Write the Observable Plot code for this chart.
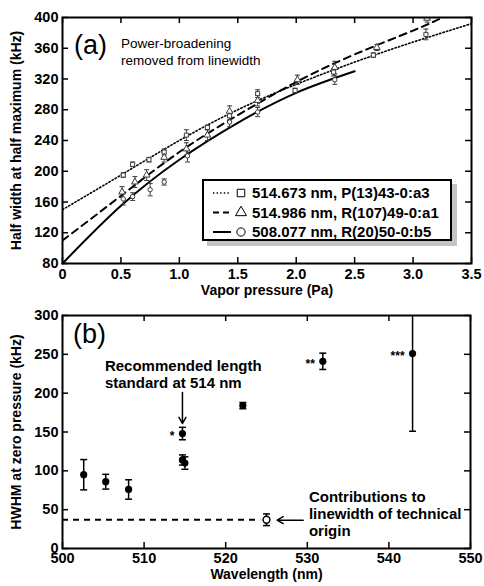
<!DOCTYPE html>
<html><head><meta charset="utf-8">
<script src="https://cdn.jsdelivr.net/npm/d3@7"></script>
<script src="https://cdn.jsdelivr.net/npm/@observablehq/plot@0.6"></script>
<style>
body{margin:0;background:#fff;}
#wrap{position:relative;width:484px;height:586px;background:#fff;font-family:"Liberation Sans",Arial,Helvetica,sans-serif;}
#wrap svg{display:block;}
#legend{position:absolute;left:202px;top:179px;width:246px;height:58px;border:2px solid #000;background:#fff;box-shadow:5px 5px 0 #c4c4c4;}
</style>
</head><body>
<div id="wrap"><div id="legend"></div></div>
<script>
// ---------- tick values ----------
const pressureTicks = [0, 0.5, 1, 1.5, 2, 2.5, 3, 3.5];
const hwhmTicks = [80, 120, 160, 200, 240, 280, 320, 360, 400];
const wavelengthTicks = [500, 510, 520, 530, 540, 550];
const zeroTicks = [0, 50, 100, 150, 200, 250, 300];

// ---------- panel (a): measured points ----------
const sqP   = [0.52, 0.60, 0.74, 0.87, 1.06, 1.24, 1.43, 1.67, 1.99, 2.32, 2.66, 3.11];
const sqW   = [195, 209, 215, 225, 247, 257, 272, 301, 305, 329, 351, 378];
const sqErr = [3, 3, 3, 4, 7, 3, 5, 5, 3, 5, 3, 7];

const triP   = [0.51, 0.62, 0.72, 0.87, 1.06, 1.24, 1.43, 1.67, 2.01, 2.33, 2.69, 3.12];
const triW   = [173, 186, 195, 218, 229, 247, 278, 292, 319, 335, 361, 399];
const triErr = [7, 7, 7, 6, 8, 7, 7, 7, 6, 8, 4, 5];

const cirP   = [0.52, 0.60, 0.75, 0.87, 1.07, 1.43, 1.67, 2.33];
const cirW   = [164, 167, 176, 186, 220, 264, 277, 319];
const cirErr = [8, 5, 8, 4, 8, 6, 6, 6];

// ---------- panel (a): fitted curves ----------
const fitSqP  = [0, 0.5, 1, 1.5, 2, 2.5, 3, 3.5];
const fitSqW  = [150, 195, 240, 280, 313, 342, 368, 392];
const fitTriP = [0, 0.5, 1, 1.5, 2, 2.5, 3, 3.25];
const fitTriW = [110, 168, 225, 273, 316, 352, 383, 400];
const fitCirP = [0, 0.5, 1, 1.5, 2, 2.5];
const fitCirW = [80, 155, 215, 263, 302, 330];

const legendLabels = ["514.673 nm, P(13)43-0:a3", "514.986 nm, R(107)49-0:a1", "508.077 nm, R(20)50-0:b5"];

// ---------- panel (b) ----------
const bWl    = [502.6, 505.3, 508.1, 514.7, 514.7, 515.0, 522.1, 531.9, 542.9];
const bHw    = [95, 86, 76, 148, 114, 110, 184, 241, 251];
const bErr   = [19.5, 9.5, 12.5, 8, 6.5, 8, 4, 10.5, 100];
const bStars = ["", "", "", "*", "", "", "", "**", "***"];
const techWl = [525.0], techHw = [37], techErr = [7.5];

// ---------- helpers ----------
const FONT = '"Liberation Sans", Arial, Helvetica, sans-serif';
const cap = w => ({draw(ctx) { ctx.moveTo(-w, 0); ctx.lineTo(w, 0); }});
const zip = (xs, ys, es) => xs.map((x, i) => ({x, y: ys[i], e: es ? es[i] : 0}));

const sq = zip(sqP, sqW, sqErr), tri = zip(triP, triW, triErr), cir = zip(cirP, cirW, cirErr);
const fSq = zip(fitSqP, fitSqW), fTri = zip(fitTriP, fitTriW), fCir = zip(fitCirP, fitCirW);

function errMarks(data, w, color, sw) {
  return [
    Plot.ruleX(data, {x: "x", y1: d => d.y - d.e, y2: d => d.y + d.e, stroke: color, strokeWidth: sw, clip: true}),
    Plot.dot(data, {x: "x", y: d => d.y + d.e, symbol: cap(w), fill: "none", stroke: color, strokeWidth: sw, clip: true}),
    Plot.dot(data, {x: "x", y: d => d.y - d.e, symbol: cap(w), fill: "none", stroke: color, strokeWidth: sw, clip: true})
  ];
}
function frameTicks(xt, yt, iw, ih) {
  return [
    Plot.tickX(xt, {x: d => d, insetTop: ih - 6, strokeWidth: 1.5}),
    Plot.tickX(xt, {x: d => d, insetBottom: ih - 6, strokeWidth: 1.5}),
    Plot.tickY(yt, {y: d => d, insetRight: iw - 6, strokeWidth: 1.5}),
    Plot.tickY(yt, {y: d => d, insetLeft: iw - 6, strokeWidth: 1.5})
  ];
}
const TICKFS = 14.5, TITLEFS = 14;

// ---------- panel (a) ----------
const W = 484;
const mA = {t: 17, r: 13, b: 37, l: 62}, HA = 300;
const iwA = W - mA.l - mA.r, ihA = HA - mA.t - mA.b;
const grey = "#3a3a3a";
const plotA = Plot.plot({
  width: W, height: HA,
  marginTop: mA.t, marginRight: mA.r, marginBottom: mA.b, marginLeft: mA.l,
  x: {domain: [0, 3.5]}, y: {domain: [80, 400]},
  style: {fontFamily: FONT, fontSize: "15px", fontWeight: "bold", color: "#000", background: "#fff", overflow: "visible"},
  marks: [
    Plot.axisX(pressureTicks, {tickSize: 0, tickPadding: 5, label: null, fontSize: TICKFS, tickFormat: d => d === 0 ? "0" : d.toFixed(1)}),
    Plot.axisY(hwhmTicks, {tickSize: 0, tickPadding: 4, label: null, fontSize: TICKFS}),
    ...frameTicks(pressureTicks, hwhmTicks, iwA, ihA),
    Plot.line(fSq, {x: "x", y: "y", curve: "natural", stroke: "#000", strokeWidth: 1.6, strokeDasharray: "1.4,2.2", clip: true}),
    Plot.line(fTri, {x: "x", y: "y", curve: "natural", stroke: "#000", strokeWidth: 2, strokeDasharray: "7,5", clip: true}),
    Plot.line(fCir, {x: "x", y: "y", curve: "natural", stroke: "#000", strokeWidth: 2}),
    ...errMarks(sq, 2.5, grey, 1),
    ...errMarks(tri, 2.5, grey, 1),
    ...errMarks(cir, 2.5, grey, 1),
    Plot.dot(sq, {x: "x", y: "y", symbol: "square", r: 2.3, fill: "#fff", stroke: grey, strokeWidth: 1, clip: true}),
    Plot.dot(tri, {x: "x", y: "y", symbol: "triangle", r: 2.5, fill: "#fff", stroke: grey, strokeWidth: 1, clip: true}),
    Plot.dot(cir, {x: "x", y: "y", symbol: "circle", r: 2.2, fill: "#fff", stroke: grey, strokeWidth: 1, clip: true}),
    Plot.text(["(a)"], {x: 0.24, y: 364, fontSize: 27, fontWeight: "normal"}),
    Plot.text(["Power-broadening\nremoved from linewidth"], {x: 0.5, y: 356, textAnchor: "start", fontSize: 13.5, fontWeight: "normal", lineHeight: 1.22}),
    Plot.text(["Half width at half maximum (kHz)"], {frameAnchor: "left", rotate: -90, dx: -46, textAnchor: "middle", fontSize: TITLEFS}),
    Plot.text(["Vapor pressure (Pa)"], {frameAnchor: "bottom", dy: 31, textAnchor: "middle", fontSize: TITLEFS}),
    Plot.frame({strokeWidth: 2})
  ]
});

// ---------- panel (b) ----------
const mB = {t: 15, r: 14, b: 38, l: 62}, HB = 286;
const iwB = W - mB.l - mB.r, ihB = HB - mB.t - mB.b;
const pb = bWl.map((x, i) => ({x, y: bHw[i], e: bErr[i], s: bStars[i]}));
const tech = zip(techWl, techHw, techErr);
const plotB = Plot.plot({
  width: W, height: HB,
  marginTop: mB.t, marginRight: mB.r, marginBottom: mB.b, marginLeft: mB.l,
  x: {domain: [500, 550]}, y: {domain: [0, 300]},
  style: {fontFamily: FONT, fontSize: "15px", fontWeight: "bold", color: "#000", background: "#fff", overflow: "visible"},
  marks: [
    Plot.axisX(wavelengthTicks, {tickSize: 0, tickPadding: 4, label: null, fontSize: TICKFS}),
    Plot.axisY(zeroTicks, {tickSize: 0, tickPadding: 4, label: null, fontSize: TICKFS}),
    ...frameTicks(wavelengthTicks, zeroTicks, iwB, ihB),
    Plot.ruleY(techHw, {y: d => d, x1: 500, x2: 524.3, stroke: "#000", strokeWidth: 2, strokeDasharray: "6,5"}),
    ...errMarks(pb, 3.5, "#000", 1.5),
    ...errMarks(tech, 3.5, "#000", 1.5),
    Plot.dot(pb, {x: "x", y: "y", r: 3.6, fill: "#000", stroke: "none"}),
    Plot.dot(tech, {x: "x", y: "y", r: 3.4, fill: "#fff", stroke: "#000", strokeWidth: 1.5}),
    Plot.text(pb.filter(d => d.s), {x: "x", y: "y", text: "s", dx: -8, dy: 3, textAnchor: "end", fontSize: 12}),
    Plot.text(["(b)"], {x: 503.3, y: 276, fontSize: 27, fontWeight: "normal"}),
    Plot.text(["Recommended length\nstandard at 514 nm"], {x: 505.2, y: 225, textAnchor: "start", fontSize: 15, lineHeight: 1.12}),
    Plot.arrow([0], {x1: 514.7, y1: 201, x2: 514.7, y2: 161, stroke: "#000", strokeWidth: 1.5, headLength: 7}),
    Plot.text(["Contributions to\nlinewidth of technical\norigin"], {x: 530.2, y: 45, textAnchor: "start", fontSize: 15, lineHeight: 1.15}),
    Plot.arrow([0], {x1: 529.5, y1: 36.5, x2: 526.3, y2: 36.5, stroke: "#000", strokeWidth: 1.5, headLength: 7}),
    Plot.text(["HWHM at zero pressure (kHz)"], {frameAnchor: "left", rotate: -90, dx: -46, textAnchor: "middle", fontSize: TITLEFS}),
    Plot.text(["Wavelength (nm)"], {frameAnchor: "bottom", dy: 30, textAnchor: "middle", fontSize: TITLEFS}),
    Plot.frame({strokeWidth: 2})
  ]
});

const wrap = document.getElementById("wrap");
wrap.insertBefore(plotB, wrap.firstChild);
wrap.insertBefore(plotA, wrap.firstChild);

// ---------- legend ----------
const legStyles = [
  {dash: "1.4,2.2", sw: 1.6, sym: d3.symbolSquare, size: 56},
  {dash: "6,4", sw: 2, sym: d3.symbolTriangle, size: 52},
  {dash: null, sw: 2, sym: d3.symbolCircle, size: 54}
];
const lsvg = d3.select("#legend").append("svg").attr("width", 246).attr("height", 58)
  .style("font-family", FONT).style("font-weight", "bold").style("font-size", "15px");
legendLabels.forEach((lab, i) => {
  const cy = 12 + i * 19.5, st = legStyles[i];
  lsvg.append("line").attr("x1", 9).attr("x2", 27).attr("y1", cy).attr("y2", cy)
    .attr("stroke", "#000").attr("stroke-width", st.sw).attr("stroke-dasharray", st.dash);
  lsvg.append("path").attr("d", d3.symbol(st.sym, st.size)()).attr("transform", `translate(37,${cy})`)
    .attr("fill", "none").attr("stroke", "#000").attr("stroke-width", 1);
  lsvg.append("text").attr("x", 48).attr("y", cy).attr("dy", "0.36em").text(lab);
});
</script>
</body></html>
